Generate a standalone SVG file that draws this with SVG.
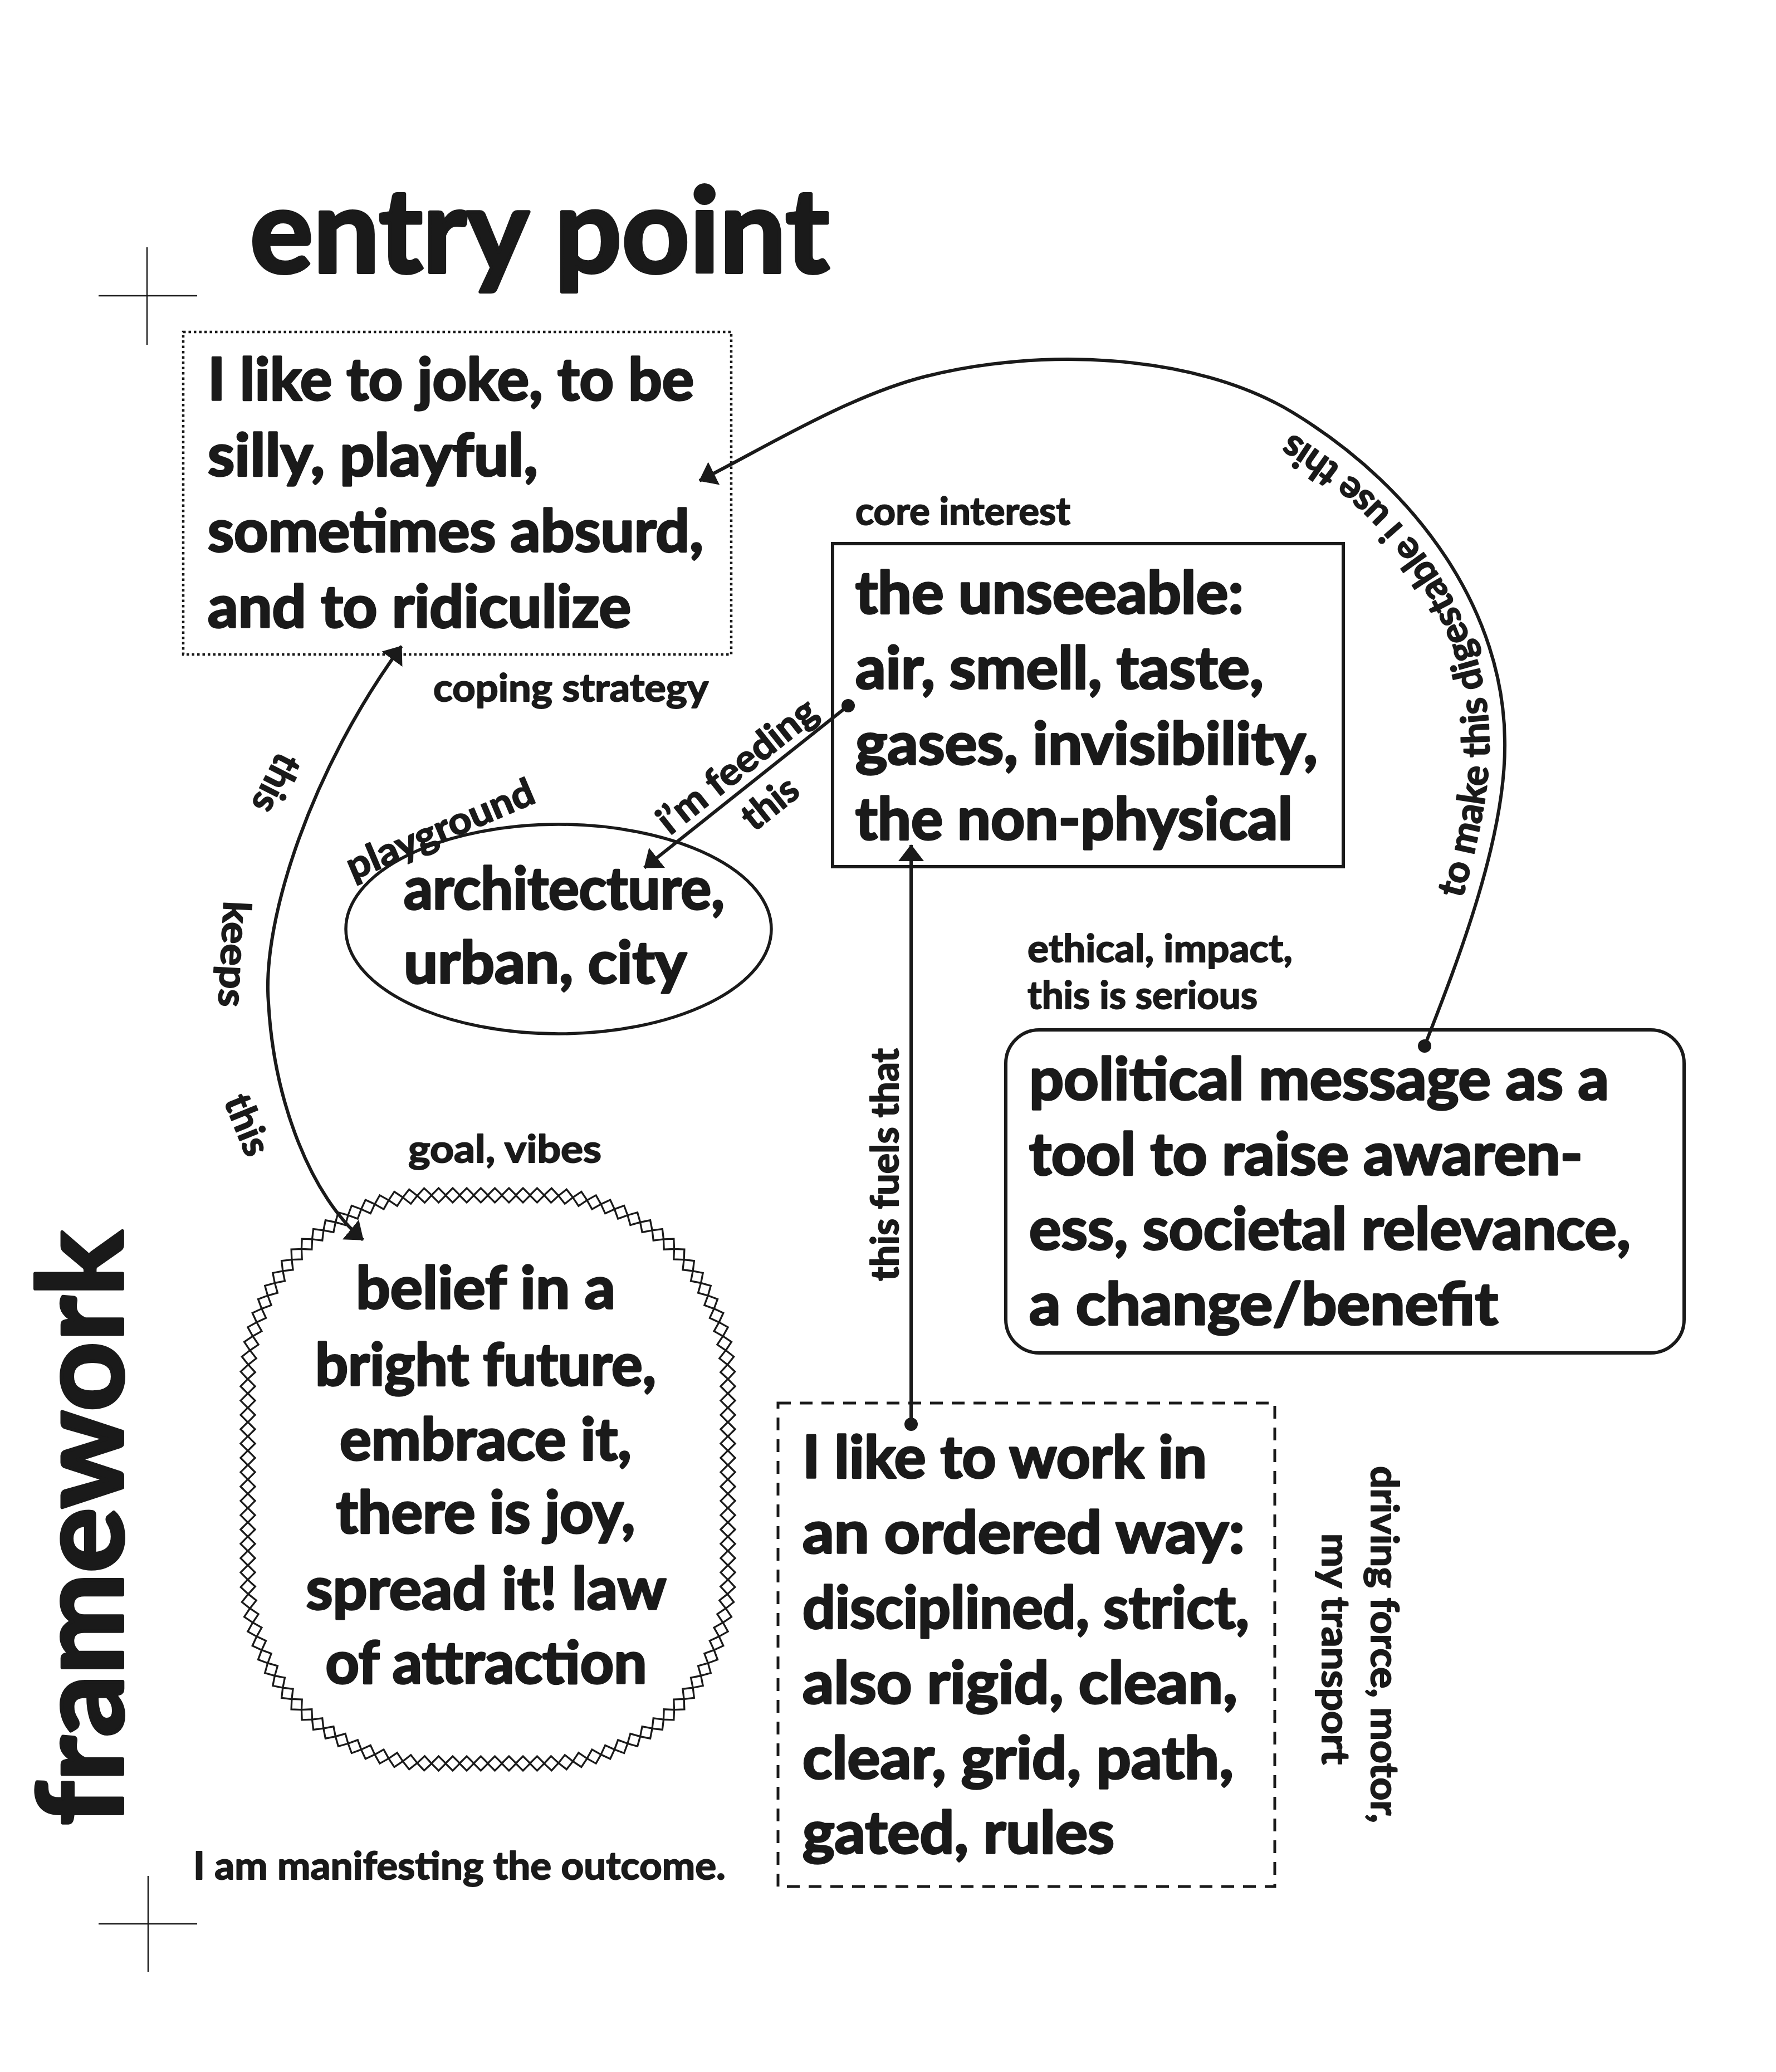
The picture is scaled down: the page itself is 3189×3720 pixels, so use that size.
<svg xmlns="http://www.w3.org/2000/svg" xmlns:xlink="http://www.w3.org/1999/xlink" width="3189" height="3720" viewBox="0 0 3189 3720">
<style>
.t{font-family:Lato,"Liberation Sans","DejaVu Sans",sans-serif;font-weight:700;fill:#1a1a1a;stroke:#1a1a1a;stroke-linejoin:round}
.h{font-size:210px;stroke-width:6}
.n{font-size:105px;stroke-width:3.6}
.l{font-size:68px;stroke-width:2}
.ln{fill:none;stroke:#1a1a1a;stroke-width:6}
.cross{stroke:#1a1a1a;stroke-width:2.5}
.dia{fill:none;stroke:#1a1a1a;stroke-width:3.3}
</style>
<defs>
<marker id="ah" viewBox="0 0 30 46" markerWidth="30" markerHeight="46" refX="29" refY="23" orient="auto-start-reverse" markerUnits="userSpaceOnUse">
<path d="M0 0L30 23L0 46Z" fill="#1a1a1a"/>
</marker>
<path id="dia" class="dia" d="M-13 0L0-13L13 0L0 13Z"/>
<g id="q">
<use href="#dia" y="-330" transform="rotate(-2.25)"/>
<use href="#dia" y="-330" transform="rotate(-6.75)"/>
<use href="#dia" y="-330" transform="rotate(-11.25)"/>
<use href="#dia" y="-330" transform="rotate(-15.75)"/>
<use href="#dia" y="-330" transform="rotate(-20.25)"/>
<use href="#dia" y="-330" transform="rotate(-24.75)"/>
<use href="#dia" y="-330" transform="rotate(-29.25)"/>
<use href="#dia" y="-330" transform="rotate(-33.75)"/>
<use href="#dia" y="-330" transform="rotate(-38.25)"/>
<use href="#dia" y="-330" transform="rotate(-42.75)"/>
<use href="#dia" y="-330" transform="rotate(-47.25)"/>
<use href="#dia" y="-330" transform="rotate(-51.75)"/>
<use href="#dia" y="-330" transform="rotate(-56.25)"/>
<use href="#dia" y="-330" transform="rotate(-60.75)"/>
<use href="#dia" y="-330" transform="rotate(-65.25)"/>
<use href="#dia" y="-330" transform="rotate(-69.75)"/>
<use href="#dia" y="-330" transform="rotate(-74.25)"/>
<use href="#dia" y="-330" transform="rotate(-78.75)"/>
<use href="#dia" y="-330" transform="rotate(-83.25)"/>
<use href="#dia" y="-330" transform="rotate(-87.75)"/>
</g>
<g id="hrow">
<use href="#dia" x="12.6"/><use href="#dia" x="37.9"/><use href="#dia" x="63.1"/><use href="#dia" x="88.4"/>
<use href="#dia" x="113.6"/><use href="#dia" x="138.9"/><use href="#dia" x="164.1"/><use href="#dia" x="189.4"/>
</g>
<g id="vrow">
<use href="#dia" y="12.9"/><use href="#dia" y="38.6"/><use href="#dia" y="64.3"/><use href="#dia" y="90"/>
<use href="#dia" y="115.7"/><use href="#dia" y="141.4"/><use href="#dia" y="167.1"/><use href="#dia" y="192.9"/>
<use href="#dia" y="218.6"/><use href="#dia" y="244.3"/><use href="#dia" y="270"/><use href="#dia" y="295.7"/>
<use href="#dia" y="321.4"/><use href="#dia" y="347.1"/>
</g>
<path id="tp" d="M2612 1660C2660 1500 2676 1400 2674 1330C2672 1110 2530 900 2305 770C2201 710 2100 676 2000 668"/>
</defs>
<rect width="3189" height="3720" fill="#ffffff"/>

<g id="crosshairs">
<line class="cross" x1="177" y1="531" x2="354" y2="531"/>
<line class="cross" x1="264" y1="444" x2="264" y2="619"/>
<line class="cross" x1="177" y1="3454" x2="354" y2="3454"/>
<line class="cross" x1="266" y1="3368" x2="266" y2="3540"/>
</g>

<g id="titles">
<text class="t h" x="449" y="489" textLength="1040" lengthAdjust="spacingAndGlyphs">entry point</text>
<text class="t h" transform="translate(220 3277) rotate(-90)" textLength="1067" lengthAdjust="spacingAndGlyphs">framework</text>
</g>

<g id="node-entry">
<rect x="329" y="596" width="984" height="579" fill="none" stroke="#1a1a1a" stroke-width="4.5" stroke-dasharray="4.5 5"/>
<text class="t n" x="373" y="718" textLength="873" lengthAdjust="spacingAndGlyphs">I like to joke, to be</text>
<text class="t n" x="373" y="854" textLength="593" lengthAdjust="spacingAndGlyphs">silly, playful,</text>
<text class="t n" x="373" y="990" textLength="890" lengthAdjust="spacingAndGlyphs">sometimes absurd,</text>
<text class="t n" x="373" y="1126" textLength="760" lengthAdjust="spacingAndGlyphs">and to ridiculize</text>
<text class="t l" x="778" y="1259" textLength="494" lengthAdjust="spacingAndGlyphs">coping strategy</text>
</g>

<g id="node-core">
<text class="t l" x="1536" y="942" textLength="386" lengthAdjust="spacingAndGlyphs">core interest</text>
<rect x="1495" y="976" width="917" height="580" fill="none" stroke="#1a1a1a" stroke-width="6"/>
<text class="t n" x="1536" y="1101" textLength="697" lengthAdjust="spacingAndGlyphs">the unseeable:</text>
<text class="t n" x="1536" y="1236" textLength="733" lengthAdjust="spacingAndGlyphs">air, smell, taste,</text>
<text class="t n" x="1536" y="1372" textLength="830" lengthAdjust="spacingAndGlyphs">gases, invisibility,</text>
<text class="t n" x="1536" y="1507" textLength="785" lengthAdjust="spacingAndGlyphs">the non-physical</text>
</g>

<g id="node-playground">
<ellipse cx="1003" cy="1668" rx="382" ry="188" fill="none" stroke="#1a1a1a" stroke-width="5.5"/>
<text class="t n" x="725" y="1632" textLength="576" lengthAdjust="spacingAndGlyphs">architecture,</text>
<text class="t n" x="725" y="1765" textLength="508" lengthAdjust="spacingAndGlyphs">urban, city</text>
<text class="t l" transform="translate(790 1488) rotate(-23)" y="24" text-anchor="middle" textLength="360" lengthAdjust="spacingAndGlyphs" font-size="72">playground</text>
</g>

<g id="node-political">
<text class="t l" x="1845" y="1727" textLength="476" lengthAdjust="spacingAndGlyphs">ethical, impact,</text>
<text class="t l" x="1845" y="1811" textLength="413" lengthAdjust="spacingAndGlyphs">this is serious</text>
<rect x="1806" y="1849" width="1218" height="580" rx="60" ry="60" fill="none" stroke="#1a1a1a" stroke-width="6"/>
<text class="t n" x="1848" y="1974" textLength="1041" lengthAdjust="spacingAndGlyphs">political message as a</text>
<text class="t n" x="1848" y="2109" textLength="994" lengthAdjust="spacingAndGlyphs">tool to raise awaren-</text>
<text class="t n" x="1848" y="2243" textLength="1080" lengthAdjust="spacingAndGlyphs">ess, societal relevance,</text>
<text class="t n" x="1848" y="2378" textLength="842" lengthAdjust="spacingAndGlyphs">a change/benefit</text>
</g>

<g id="node-goal">
<text class="t l" x="733" y="2087" textLength="347" lengthAdjust="spacingAndGlyphs">goal, vibes</text>
<use href="#q" transform="translate(775 2476)"/>
<use href="#q" transform="translate(977 2476) rotate(90)"/>
<use href="#q" transform="translate(977 2836) rotate(180)"/>
<use href="#q" transform="translate(775 2836) rotate(270)"/>
<use href="#hrow" transform="translate(775 2146)"/>
<use href="#hrow" transform="translate(775 3166)"/>
<use href="#vrow" transform="translate(445 2476)"/>
<use href="#vrow" transform="translate(1307 2476)"/>
<text class="t n" x="872" y="2349" text-anchor="middle" textLength="466" lengthAdjust="spacingAndGlyphs">belief in a</text>
<text class="t n" x="872" y="2487" text-anchor="middle" textLength="612" lengthAdjust="spacingAndGlyphs">bright future,</text>
<text class="t n" x="872" y="2621" text-anchor="middle" textLength="524" lengthAdjust="spacingAndGlyphs">embrace it,</text>
<text class="t n" x="872" y="2752" text-anchor="middle" textLength="537" lengthAdjust="spacingAndGlyphs">there is joy,</text>
<text class="t n" x="873" y="2889" text-anchor="middle" textLength="647" lengthAdjust="spacingAndGlyphs">spread it! law</text>
<text class="t n" x="873" y="3022" text-anchor="middle" textLength="577" lengthAdjust="spacingAndGlyphs">of attraction</text>
<text class="t l" x="347" y="3374" textLength="956" lengthAdjust="spacingAndGlyphs">I am manifesting the outcome.</text>
</g>

<g id="node-work">
<rect x="1397" y="2519" width="892" height="868" fill="none" stroke="#1a1a1a" stroke-width="5" stroke-dasharray="23 16"/>
<text class="t n" x="1441" y="2653" textLength="726" lengthAdjust="spacingAndGlyphs">I like to work in</text>
<text class="t n" x="1441" y="2788" textLength="794" lengthAdjust="spacingAndGlyphs">an ordered way:</text>
<text class="t n" x="1441" y="2923" textLength="802" lengthAdjust="spacingAndGlyphs">disciplined, strict,</text>
<text class="t n" x="1441" y="3058" textLength="781" lengthAdjust="spacingAndGlyphs">also rigid, clean,</text>
<text class="t n" x="1441" y="3193" textLength="774" lengthAdjust="spacingAndGlyphs">clear, grid, path,</text>
<text class="t n" x="1441" y="3327" textLength="560" lengthAdjust="spacingAndGlyphs">gated, rules</text>
<text class="t l" transform="translate(2462 2632) rotate(90)" textLength="641" lengthAdjust="spacingAndGlyphs">driving force, motor,</text>
<text class="t l" transform="translate(2374 2753) rotate(90)" textLength="415" lengthAdjust="spacingAndGlyphs">my transport</text>
</g>

<g id="connectors">
<path class="ln" d="M2558 1878C2620 1720 2705 1500 2702 1330C2700 1100 2550 880 2322 741C2142 631 1860 625 1661 676C1520 712 1368 807 1256 863" marker-end="url(#ah)"/>
<circle cx="2558" cy="1878" r="12" fill="#1a1a1a"/>
<text class="t l"><textPath href="#tp" startOffset="48" textLength="975" lengthAdjust="spacingAndGlyphs">to make this digestable i use this</textPath></text>

<path class="ln" d="M721 1160C560 1380 470 1650 482 1800C492 1980 560 2150 652 2226" marker-start="url(#ah)" marker-end="url(#ah)"/>
<text class="t l" transform="translate(495 1406) rotate(117)" y="22" text-anchor="middle" textLength="110" lengthAdjust="spacingAndGlyphs">this</text>
<text class="t l" transform="translate(419 1713) rotate(93)" y="22" text-anchor="middle" textLength="190" lengthAdjust="spacingAndGlyphs">keeps</text>
<text class="t l" transform="translate(443 2020) rotate(68)" y="22" text-anchor="middle" textLength="112" lengthAdjust="spacingAndGlyphs">this</text>

<path class="ln" d="M1523 1267L1157 1558" marker-end="url(#ah)"/>
<circle cx="1523" cy="1267" r="12" fill="#1a1a1a"/>
<g transform="translate(1357 1399) rotate(-38.5)">
<text class="t l" x="-11.5" y="-16.5" text-anchor="middle" textLength="345" lengthAdjust="spacingAndGlyphs">i’m feeding</text>
<text class="t l" x="-7" y="72.7" text-anchor="middle" textLength="110" lengthAdjust="spacingAndGlyphs">this</text>
</g>

<path class="ln" d="M1636 2557L1636 1517" marker-end="url(#ah)"/>
<circle cx="1636" cy="2557" r="12" fill="#1a1a1a"/>
<text class="t l" transform="translate(1613 2300) rotate(-90)" textLength="418" lengthAdjust="spacingAndGlyphs">this fuels that</text>
</g>
</svg>
